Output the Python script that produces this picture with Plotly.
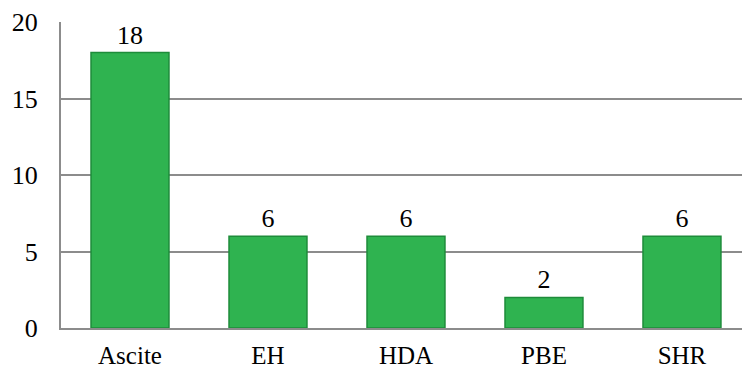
import plotly.graph_objects as go

categories = ["Ascite", "EH", "HDA", "PBE", "SHR"]
values = [18, 6, 6, 2, 6]
y_ticks = [0, 5, 10, 15, 20]

fig = go.Figure(go.Bar(
    x=categories, y=values,
    text=[str(v) for v in values], textposition="outside",
    textfont=dict(family="Liberation Serif", size=26, color="black"),
    marker=dict(color="#2fb350", line=dict(color="#1e8c3a", width=1.5)),
    cliponaxis=False,
))
fig.update_layout(
    width=742, height=372,
    margin=dict(l=61, r=0, t=22, b=44),
    paper_bgcolor="white", plot_bgcolor="white",
    bargap=0.435,
    showlegend=False,
    font=dict(family="Liberation Serif", size=26, color="black"),
)
fig.update_yaxes(range=[0, 20], tickvals=y_ticks, showgrid=True, gridcolor="#8c8c8c", gridwidth=2,
                 showline=True, linecolor="#8c8c8c", linewidth=2, ticks="", ticklen=0,
                 tickfont=dict(size=26), zeroline=False, ticklabelstandoff=16, automargin=False)
fig.update_xaxes(range=[-0.5, 4.435], showline=True, linecolor="#8c8c8c", linewidth=2,
                 ticks="", tickfont=dict(size=25), ticklabelstandoff=4, automargin=False)
fig.write_html("out.html")
